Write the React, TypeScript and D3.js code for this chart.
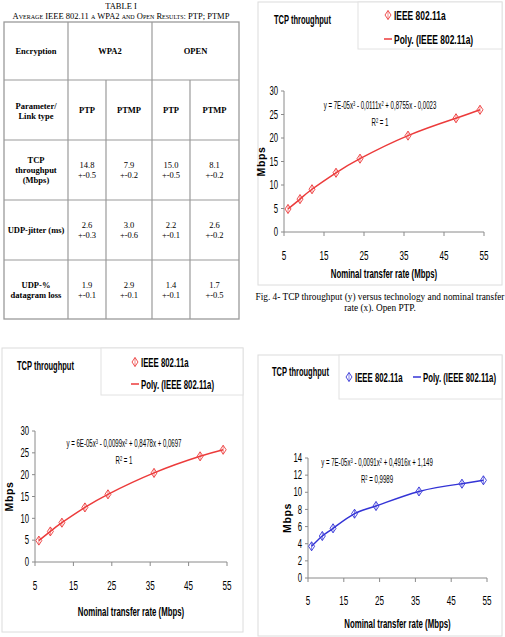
import * as d3 from "d3";
import type { ReactNode } from "react";

// 802.11a nominal rates (Mbps)
const rates = [6, 9, 12, 18, 24, 36, 48, 54];
// measured TCP throughput (Mbps)
const tcpOpenPtp = [4.9, 7.0, 9.1, 12.6, 15.6, 20.5, 24.2, 26.0];
const tcpWpa2Ptp = [4.9, 7.0, 9.0, 12.5, 15.5, 20.4, 24.2, 25.7];
const tcpPtmp = [3.7, 4.9, 5.8, 7.5, 8.4, 10.1, 11.0, 11.4];

const xTicks = [5, 15, 25, 35, 45, 55];
const yTicksWide = [0, 5, 10, 15, 20, 25, 30];
const yTicksNarrow = [0, 2, 4, 6, 8, 10, 12, 14];

// table contents
const encryptions = ["WPA2", "OPEN"];
const linkTypes = ["PTP", "PTMP", "PTP", "PTMP"];
const paramNames = [["TCP", "throughput", "(Mbps)"], ["UDP-jitter (ms)"], ["UDP-%", "datagram loss"]];
const paramMeans = [
    ["14.8", "7.9", "15.0", "8.1"],
    ["2.6", "3.0", "2.2", "2.6"],
    ["1.9", "2.9", "1.4", "1.7"]
];
const paramErrs = [
    ["+-0.5", "+-0.2", "+-0.5", "+-0.2"],
    ["+-0.3", "+-0.6", "+-0.1", "+-0.2"],
    ["+-0.1", "+-0.1", "+-0.1", "+-0.5"]
];

const SANS = "'Liberation Sans', Arial, sans-serif";
const SERIF = "'Liberation Serif', 'Times New Roman', serif";

// condensed text: Arial metrics squeezed horizontally
function NT({ x, y, size, sx = 0.62, anchor = "start", bold = false, children }: {
    x: number; y: number; size: number; sx?: number; anchor?: string; bold?: boolean; children: ReactNode;
}) {
    return (
        <text
            transform={`translate(${x},${y}) scale(${sx},1)`}
            textAnchor={anchor}
            fontFamily={SANS}
            fontSize={size}
            fontWeight={bold ? "bold" : "normal"}
        >
            {children}
        </text>
    );
}

interface ChartProps {
    frame: [number, number, number, number];
    legendBox: [number, number, number, number];
    titlePos: [number, number];
    legendMarker: [number, number];
    legendLine: [number, number];
    legendSize: number;
    xr: [number, number];
    yr: [number, number];
    yMax: number;
    yTicks: number[];
    values: number[];
    color: string;
    eq: [string, string, string];
    eqPos: [number, number];
    r2: string;
    xTitleY: number;
    yTitleX: number;
    xLabelY: number;
}

function Diamond({ x, y, color }: { x: number; y: number; color: string }) {
    return (
        <g stroke={color} strokeWidth={0.9} fill="none">
            <path d={`M${x},${y - 4.5}L${x + 3},${y}L${x},${y + 4.5}L${x - 3},${y}Z`} />
            <line x1={x} x2={x} y1={y - 4.5} y2={y + 4.5} strokeWidth={0.6} />
        </g>
    );
}

function Chart(p: ChartProps) {
    const x = d3.scaleLinear().domain([5, 55]).range(p.xr);
    const y = d3.scaleLinear().domain([0, p.yMax]).range(p.yr);
    const pts = rates.map((r, i) => [x(r), y(p.values[i])] as [number, number]);
    const trend = d3.line().curve(d3.curveNatural)(pts);
    const [fx, fy, fw, fh] = p.frame;
    const [lx, ly, lw, lh] = p.legendBox;
    const axisCol = "#8a8a8a";
    return (
        <g>
            <rect x={fx} y={fy} width={fw} height={fh} fill="#fff" stroke="#dcdcdc" strokeWidth={1} />
            <rect x={lx} y={ly} width={lw} height={lh} fill="#fff" stroke="#e2e2e2" strokeWidth={1} />
            <NT x={p.titlePos[0]} y={p.titlePos[1]} size={12.5} sx={0.6} bold>TCP throughput</NT>
            <Diamond x={p.legendMarker[0]} y={p.legendMarker[1]} color={p.color} />
            <NT x={p.legendMarker[0] + 6} y={p.legendMarker[1] + 4.5} size={p.legendSize} sx={0.65} bold>
                IEEE 802.11a
            </NT>
            <line x1={p.legendLine[0]} x2={p.legendLine[0] + 8} y1={p.legendLine[1]} y2={p.legendLine[1]} stroke={p.color} strokeWidth={1.5} />
            <NT x={p.legendLine[0] + 10} y={p.legendLine[1] + 4.5} size={p.legendSize} sx={0.65} bold>
                Poly. (IEEE 802.11a)
            </NT>

            {/* axes */}
            <line x1={p.xr[0]} x2={p.xr[0]} y1={p.yr[0]} y2={p.yr[1]} stroke={axisCol} />
            <line x1={p.xr[0]} x2={p.xr[1]} y1={p.yr[0]} y2={p.yr[0]} stroke={axisCol} />
            {p.yTicks.map(t => (
                <g key={t}>
                    <line x1={p.xr[0] - 3} x2={p.xr[0]} y1={y(t)} y2={y(t)} stroke={axisCol} />
                    <NT x={p.xr[0] - 6} y={y(t) + 4.2} size={12.5} anchor="end">{t}</NT>
                </g>
            ))}
            {xTicks.map(t => (
                <g key={t}>
                    <line x1={x(t)} x2={x(t)} y1={p.yr[0]} y2={p.yr[0] + 4} stroke={axisCol} />
                    <NT x={x(t)} y={p.xLabelY} size={13.5} sx={0.6} anchor="middle">{t}</NT>
                </g>
            ))}
            <NT x={(p.xr[0] + p.xr[1]) / 2} y={p.xTitleY} size={13.5} sx={0.58} anchor="middle" bold>
                Nominal transfer rate (Mbps)
            </NT>
            <text
                transform={`translate(${p.yTitleX},${(p.yr[0] + p.yr[1]) / 2}) rotate(-90)`}
                textAnchor="middle"
                fontFamily={SANS}
                fontWeight="bold"
                fontSize={10.5}
                letterSpacing={0.6}
            >
                Mbps
            </text>

            {/* trend line and points */}
            <path d={trend ?? ""} fill="none" stroke={p.color} strokeWidth={1.5} />
            {pts.map(([px, py], i) => (
                <Diamond key={i} x={px} y={py} color={p.color} />
            ))}

            <NT x={p.eqPos[0]} y={p.eqPos[1]} size={10.5} sx={0.58} anchor="middle">
                {p.eq[0]}
                <tspan dy={-3.5} fontSize={7}>3</tspan>
                <tspan dy={3.5}>{p.eq[1]}</tspan>
                <tspan dy={-3.5} fontSize={7}>2</tspan>
                <tspan dy={3.5}>{p.eq[2]}</tspan>
            </NT>
            <NT x={p.eqPos[0]} y={p.eqPos[1] + 17} size={10.5} sx={0.58} anchor="middle">
                R<tspan dy={-3.5} fontSize={7}>2</tspan>
                <tspan dy={3.5}>{" = " + p.r2}</tspan>
            </NT>
        </g>
    );
}

function Table() {
    const cols = [4, 68, 106, 152, 190, 239];
    const rows = [22, 80, 140, 200, 260, 319];
    const mid = (a: number, b: number) => (a + b) / 2;
    const line = "#9a9a9a";
    return (
        <g fontFamily={SERIF} fontSize={8.5}>
            <text x={121} y={9} textAnchor="middle">TABLE I</text>
            <text x={121} y={19} textAnchor="middle" style={{ fontVariant: "small-caps" }}>
                Average IEEE 802.11 a WPA2 and Open Results: PTP; PTMP
            </text>
            <rect x={cols[0]} y={rows[0]} width={cols[5] - cols[0]} height={rows[5] - rows[0]} fill="none" stroke={line} strokeWidth={1.3} />
            {rows.slice(1, 5).map(r => (
                <line key={r} x1={cols[0]} x2={cols[5]} y1={r} y2={r} stroke={line} strokeWidth={1.2} />
            ))}
            {[1, 3].map(c => (
                <line key={c} x1={cols[c]} x2={cols[c]} y1={rows[0]} y2={rows[5]} stroke={line} strokeWidth={1.2} />
            ))}
            {[2, 4].map(c => (
                <line key={c} x1={cols[c]} x2={cols[c]} y1={rows[1]} y2={rows[5]} stroke={line} strokeWidth={1.2} />
            ))}
            <text x={mid(cols[0], cols[1])} y={mid(rows[0], rows[1]) + 3} textAnchor="middle" fontWeight="bold">Encryption</text>
            {encryptions.map((e, i) => (
                <text key={e} x={mid(cols[1 + 2 * i], cols[3 + 2 * i])} y={mid(rows[0], rows[1]) + 3} textAnchor="middle" fontWeight="bold">
                    {e}
                </text>
            ))}
            <text x={mid(cols[0], cols[1])} y={mid(rows[1], rows[2]) - 1} textAnchor="middle" fontWeight="bold">Parameter/</text>
            <text x={mid(cols[0], cols[1])} y={mid(rows[1], rows[2]) + 9} textAnchor="middle" fontWeight="bold">Link type</text>
            {linkTypes.map((t, i) => (
                <text key={i} x={mid(cols[1 + i], cols[2 + i])} y={mid(rows[1], rows[2]) + 3} textAnchor="middle" fontWeight="bold">
                    {t}
                </text>
            ))}
            {paramNames.map((name, r) => {
                const cy = mid(rows[2 + r], rows[3 + r]);
                const top = cy - ((name.length - 1) * 10) / 2 + 3;
                return (
                    <g key={r}>
                        {name.map((s, k) => (
                            <text key={k} x={mid(cols[0], cols[1])} y={top + k * 10} textAnchor="middle" fontWeight="bold">
                                {s}
                            </text>
                        ))}
                        {paramMeans[r].map((v, c) => (
                            <g key={c}>
                                <text x={mid(cols[1 + c], cols[2 + c])} y={cy - 2} textAnchor="middle">{v}</text>
                                <text x={mid(cols[1 + c], cols[2 + c])} y={cy + 8} textAnchor="middle">{paramErrs[r][c]}</text>
                            </g>
                        ))}
                    </g>
                );
            })}
        </g>
    );
}

export default function App() {
    return (
        <div style={{ position: "fixed", left: 0, top: 0 }}>
            <svg width={505} height={637} style={{ display: "block", background: "#fff" }}>
                <Table />
                <Chart
                    frame={[258, 2, 244, 283]}
                    legendBox={[358, 2, 144, 47]}
                    titlePos={[274, 24]}
                    legendMarker={[388, 15]}
                    legendLine={[384, 39]}
                    legendSize={13}
                    xr={[284, 484]}
                    yr={[232, 91]}
                    yMax={30}
                    yTicks={yTicksWide}
                    values={tcpOpenPtp}
                    color="#ec3b3b"
                    eq={["y = 7E-05x", " - 0,0111x", " + 0,8755x - 0,0023"]}
                    eqPos={[380, 109]}
                    r2="1"
                    xLabelY={260}
                    xTitleY={278}
                    yTitleX={265}
                />
                <text x={380} y={300} textAnchor="middle" fontFamily={SERIF} fontSize={9.3}>
                    Fig. 4- TCP throughput (y) versus technology and nominal transfer
                </text>
                <text x={380} y={311} textAnchor="middle" fontFamily={SERIF} fontSize={9.3}>
                    rate (x). Open PTP.
                </text>
                <Chart
                    frame={[2, 348, 241, 284]}
                    legendBox={[101, 348, 142, 47]}
                    titlePos={[17, 370]}
                    legendMarker={[135, 362]}
                    legendLine={[131, 384]}
                    legendSize={12}
                    xr={[35, 227]}
                    yr={[562, 431]}
                    yMax={30}
                    yTicks={yTicksWide}
                    values={tcpWpa2Ptp}
                    color="#ec3b3b"
                    eq={["y = 6E-05x", " - 0,0099x", " + 0,8478x + 0,0697"]}
                    eqPos={[124, 447]}
                    r2="1"
                    xLabelY={590}
                    xTitleY={616}
                    yTitleX={13}
                />
                <Chart
                    frame={[258, 355, 244, 281]}
                    legendBox={[339, 355, 163, 44]}
                    titlePos={[272, 376]}
                    legendMarker={[349, 377]}
                    legendLine={[413, 377]}
                    legendSize={12}
                    xr={[308, 487]}
                    yr={[578, 458]}
                    yMax={14}
                    yTicks={yTicksNarrow}
                    values={tcpPtmp}
                    color="#3434d6"
                    eq={["y = 7E-05x", " - 0,0091x", " + 0,4916x + 1,149"]}
                    eqPos={[377, 466]}
                    r2="0,9989"
                    xLabelY={605}
                    xTitleY={628}
                    yTitleX={291}
                />
            </svg>
        </div>
    );
}
